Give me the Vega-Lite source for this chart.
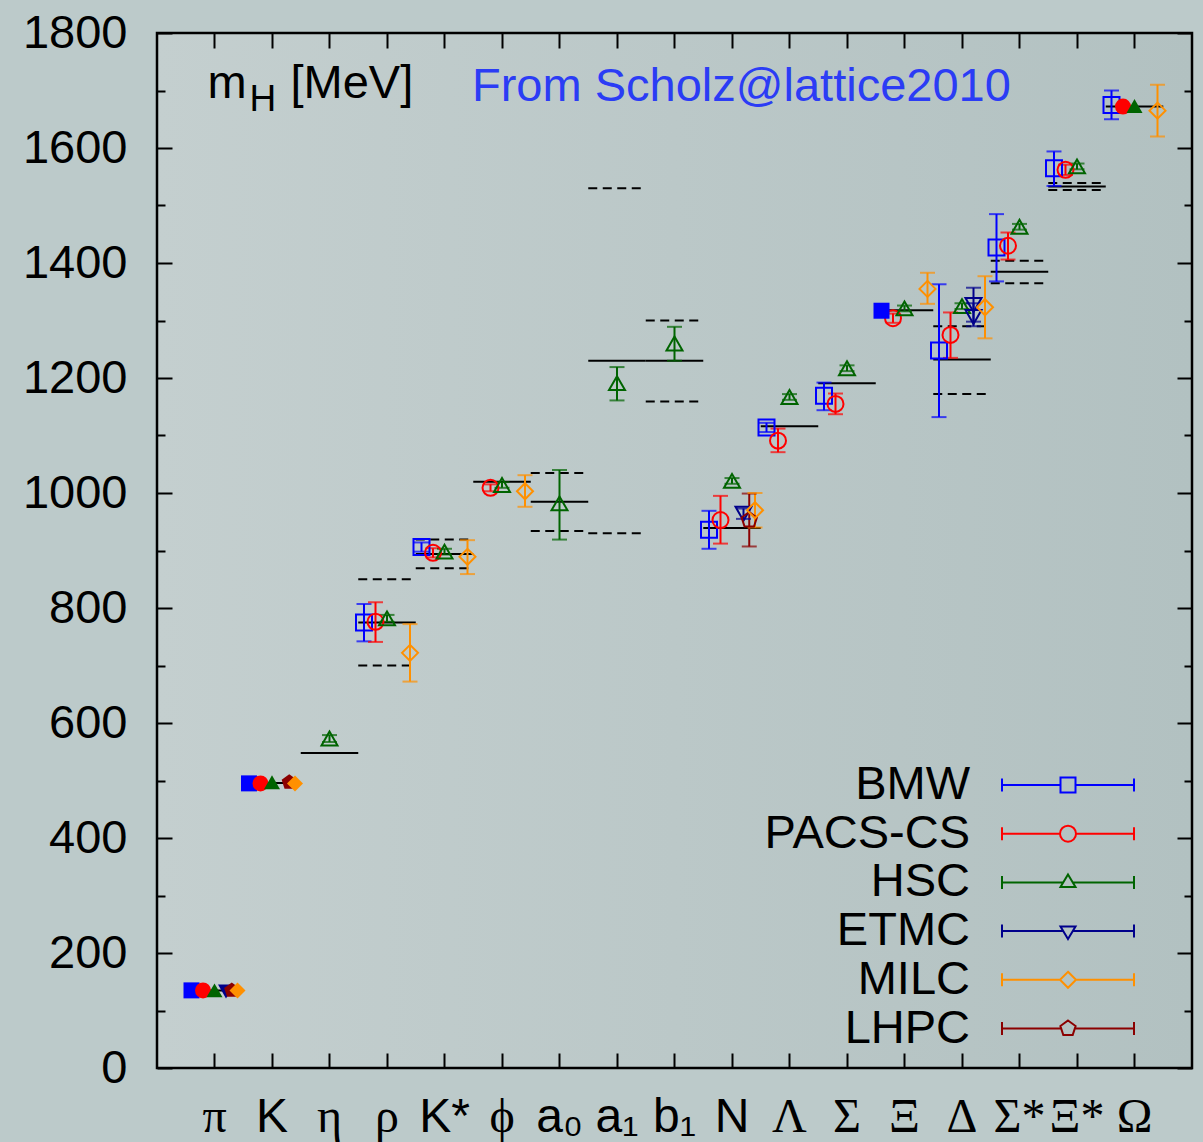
{
  "$schema": "https://vega.github.io/schema/vega-lite/v6.json",
  "width": 1035,
  "height": 1035,
  "autosize": {"type": "none"},
  "padding": {"left": 157, "top": 33, "right": 11, "bottom": 74},
  "background": "#bccaca",
  "config": {
    "font": "Liberation Sans",
    "view": {
      "stroke": "black",
      "strokeWidth": 2.5,
      "fill": {"gradient": "linear", "x1": 0, "y1": 0, "x2": 1, "y2": 0, "stops": [{"offset": 0, "color": "#c4cfcf"}, {"offset": 1, "color": "#b2c1c1"}]}
    }
  },
  "title": {"text": "From Scholz@lattice2010", "anchor": "start", "frame": "group", "orient": "top", "offset": 0, "dx": 315, "dy": 139, "baseline": "alphabetic", "fontSize": 47, "fontWeight": "normal", "color": "#2b3cf5", "font": "Liberation Sans"},
  "datasets": {
    "results": [
      {"hadron": "π", "collab": "BMW", "mass": 135, "lo": null, "hi": null, "input": true},
      {"hadron": "π", "collab": "PACS-CS", "mass": 135, "lo": null, "hi": null, "input": true},
      {"hadron": "π", "collab": "HSC", "mass": 135, "lo": null, "hi": null, "input": true},
      {"hadron": "π", "collab": "ETMC", "mass": 133, "lo": null, "hi": null, "input": true},
      {"hadron": "π", "collab": "LHPC", "mass": 135, "lo": null, "hi": null, "input": true},
      {"hadron": "π", "collab": "MILC", "mass": 135, "lo": null, "hi": null, "input": true},
      {"hadron": "K", "collab": "BMW", "mass": 495, "lo": null, "hi": null, "input": true},
      {"hadron": "K", "collab": "PACS-CS", "mass": 495, "lo": null, "hi": null, "input": true},
      {"hadron": "K", "collab": "HSC", "mass": 497, "lo": null, "hi": null, "input": true},
      {"hadron": "K", "collab": "LHPC", "mass": 497, "lo": null, "hi": null, "input": true},
      {"hadron": "K", "collab": "MILC", "mass": 495, "lo": null, "hi": null, "input": true},
      {"hadron": "η", "collab": "HSC", "mass": 573, "lo": 567, "hi": 579, "input": false},
      {"hadron": "ρ", "collab": "BMW", "mass": 775, "lo": 742, "hi": 807, "input": false},
      {"hadron": "ρ", "collab": "PACS-CS", "mass": 776, "lo": 741, "hi": 810, "input": false},
      {"hadron": "ρ", "collab": "HSC", "mass": 782, "lo": 776, "hi": 788, "input": false},
      {"hadron": "ρ", "collab": "MILC", "mass": 722, "lo": 672, "hi": 772, "input": false},
      {"hadron": "K*", "collab": "BMW", "mass": 906, "lo": 898, "hi": 914, "input": false},
      {"hadron": "K*", "collab": "PACS-CS", "mass": 896, "lo": 888, "hi": 904, "input": false},
      {"hadron": "K*", "collab": "HSC", "mass": 898, "lo": 893, "hi": 903, "input": false},
      {"hadron": "K*", "collab": "MILC", "mass": 889, "lo": 859, "hi": 918, "input": false},
      {"hadron": "ϕ", "collab": "PACS-CS", "mass": 1009, "lo": 1003, "hi": 1015, "input": false},
      {"hadron": "ϕ", "collab": "HSC", "mass": 1014, "lo": 1009, "hi": 1019, "input": false},
      {"hadron": "ϕ", "collab": "MILC", "mass": 1003, "lo": 976, "hi": 1031, "input": false},
      {"hadron": "a₀", "collab": "HSC", "mass": 982, "lo": 919, "hi": 1040, "input": false},
      {"hadron": "a₁", "collab": "HSC", "mass": 1191, "lo": 1161, "hi": 1219, "input": false},
      {"hadron": "b₁", "collab": "HSC", "mass": 1260, "lo": 1230, "hi": 1289, "input": false},
      {"hadron": "N", "collab": "BMW", "mass": 936, "lo": 903, "hi": 969, "input": false},
      {"hadron": "N", "collab": "PACS-CS", "mass": 953, "lo": 912, "hi": 995, "input": false},
      {"hadron": "N", "collab": "HSC", "mass": 1021, "lo": 1016, "hi": 1026, "input": false},
      {"hadron": "N", "collab": "ETMC", "mass": 964, "lo": 955, "hi": 973, "input": false},
      {"hadron": "N", "collab": "LHPC", "mass": 953, "lo": 907, "hi": 999, "input": false},
      {"hadron": "N", "collab": "MILC", "mass": 970, "lo": 940, "hi": 1000, "input": false},
      {"hadron": "Λ", "collab": "BMW", "mass": 1114, "lo": 1106, "hi": 1122, "input": false},
      {"hadron": "Λ", "collab": "PACS-CS", "mass": 1091, "lo": 1071, "hi": 1112, "input": false},
      {"hadron": "Λ", "collab": "HSC", "mass": 1167, "lo": 1162, "hi": 1172, "input": false},
      {"hadron": "Σ", "collab": "BMW", "mass": 1169, "lo": 1144, "hi": 1192, "input": false},
      {"hadron": "Σ", "collab": "PACS-CS", "mass": 1155, "lo": 1137, "hi": 1173, "input": false},
      {"hadron": "Σ", "collab": "HSC", "mass": 1217, "lo": 1212, "hi": 1222, "input": false},
      {"hadron": "Ξ", "collab": "BMW", "mass": 1317, "lo": null, "hi": null, "input": true},
      {"hadron": "Ξ", "collab": "PACS-CS", "mass": 1304, "lo": 1296, "hi": 1312, "input": false},
      {"hadron": "Ξ", "collab": "HSC", "mass": 1321, "lo": 1316, "hi": 1326, "input": false},
      {"hadron": "Ξ", "collab": "MILC", "mass": 1355, "lo": 1329, "hi": 1383, "input": false},
      {"hadron": "Δ", "collab": "BMW", "mass": 1248, "lo": 1132, "hi": 1363, "input": false},
      {"hadron": "Δ", "collab": "PACS-CS", "mass": 1275, "lo": 1235, "hi": 1314, "input": false},
      {"hadron": "Δ", "collab": "HSC", "mass": 1325, "lo": 1320, "hi": 1330, "input": false},
      {"hadron": "Δ", "collab": "ETMC", "mass": 1327, "lo": 1298, "hi": 1357, "input": false},
      {"hadron": "Δ", "collab": "ETMC", "mass": 1306, "lo": 1290, "hi": 1330, "input": false},
      {"hadron": "Δ", "collab": "MILC", "mass": 1323, "lo": 1269, "hi": 1377, "input": false},
      {"hadron": "Σ*", "collab": "BMW", "mass": 1427, "lo": 1368, "hi": 1485, "input": false},
      {"hadron": "Σ*", "collab": "PACS-CS", "mass": 1430, "lo": 1406, "hi": 1453, "input": false},
      {"hadron": "Σ*", "collab": "HSC", "mass": 1463, "lo": 1458, "hi": 1468, "input": false},
      {"hadron": "Ξ*", "collab": "BMW", "mass": 1565, "lo": 1534, "hi": 1594, "input": false},
      {"hadron": "Ξ*", "collab": "PACS-CS", "mass": 1562, "lo": 1553, "hi": 1571, "input": false},
      {"hadron": "Ξ*", "collab": "HSC", "mass": 1568, "lo": 1563, "hi": 1573, "input": false},
      {"hadron": "Ω", "collab": "BMW", "mass": 1675, "lo": 1650, "hi": 1700, "input": false},
      {"hadron": "Ω", "collab": "PACS-CS", "mass": 1672, "lo": null, "hi": null, "input": true},
      {"hadron": "Ω", "collab": "HSC", "mass": 1673, "lo": null, "hi": null, "input": true},
      {"hadron": "Ω", "collab": "MILC", "mass": 1665, "lo": 1620, "hi": 1710, "input": false}
    ],
    "exp": [
      {"hadron": "π", "mass": 135, "wlo": null, "whi": null},
      {"hadron": "K", "mass": 495.6, "wlo": null, "whi": null},
      {"hadron": "η", "mass": 548, "wlo": null, "whi": null},
      {"hadron": "ρ", "mass": 775, "wlo": 700, "whi": 850},
      {"hadron": "K*", "mass": 894, "wlo": 869, "whi": 919},
      {"hadron": "ϕ", "mass": 1019.5, "wlo": null, "whi": null},
      {"hadron": "a₀", "mass": 985, "wlo": 934, "whi": 1035},
      {"hadron": "a₁", "mass": 1230, "wlo": 930, "whi": 1530},
      {"hadron": "b₁", "mass": 1230, "wlo": 1159, "whi": 1300},
      {"hadron": "N", "mass": 939, "wlo": null, "whi": null},
      {"hadron": "Λ", "mass": 1116, "wlo": null, "whi": null},
      {"hadron": "Σ", "mass": 1191, "wlo": null, "whi": null},
      {"hadron": "Ξ", "mass": 1318, "wlo": null, "whi": null},
      {"hadron": "Δ", "mass": 1232, "wlo": 1172, "whi": 1290},
      {"hadron": "Σ*", "mass": 1385, "wlo": 1365, "whi": 1404},
      {"hadron": "Ξ*", "mass": 1533, "wlo": 1527, "whi": 1539},
      {"hadron": "Ω", "mass": 1672, "wlo": null, "whi": null}
    ]
  },
  "resolve": {"scale": {"shape": "independent", "stroke": "independent"}},
  "layer": [
    {
      "data": {"name": "exp"},
      "mark": {"type": "rule", "color": "black", "strokeWidth": 2},
      "encoding": {
        "x": {"field": "hadron", "type": "nominal", "bandPosition": 0,
          "scale": {"type": "band", "domain": ["π","K","η","ρ","K*","ϕ","a₀","a₁","b₁","N","Λ","Σ","Ξ","Δ","Σ*","Ξ*","Ω"], "paddingInner": 0, "paddingOuter": 0.5},
          "axis": {"orient": "bottom", "title": null, "domain": false, "grid": false, "tickSize": -15, "tickWidth": 2, "tickColor": "black", "labelAngle": 0, "labelFontSize": 48, "labelColor": "black", "labelPadding": 40, "labelBaseline": "top",
            "labelFont": {"condition": {"test": "indexof(['K','K*','N','a₀','a₁','b₁'], datum.value) >= 0", "value": "Liberation Sans"}, "value": "Liberation Serif"}}},
        "x2": {"field": "hadron", "bandPosition": 1},
        "y": {"field": "mass", "type": "quantitative",
          "scale": {"domain": [0, 1800], "nice": false, "zero": false},
          "axis": {"orient": "left", "values": [0,100,200,300,400,500,600,700,800,900,1000,1100,1200,1300,1400,1500,1600,1700,1800], "format": "d",
            "tickSize": {"condition": {"test": "datum.value % 200 === 0", "value": -15}, "value": -8},
            "tickWidth": 2, "tickColor": "black", "domain": false, "grid": false,
            "labelExpr": "datum.value % 200 === 0 ? datum.label : ''", "labelFontSize": 47, "labelColor": "black", "labelPadding": 45, "labelOverlap": false, "labelFlush": false,
            "title": "m", "titleAngle": 0, "titleX": 50, "titleY": 64, "titleAlign": "left", "titleBaseline": "alphabetic", "titleFontSize": 47, "titleFontWeight": "normal", "titleColor": "black"}}
      }
    },
    {
      "data": {"name": "exp"},
      "transform": [{"filter": "isValid(datum.wlo)"}],
      "mark": {"type": "rule", "color": "black", "strokeWidth": 2, "strokeDash": [9, 5.5]},
      "encoding": {
        "x": {"field": "hadron", "type": "nominal", "bandPosition": 0, "axis": null},
        "x2": {"field": "hadron", "bandPosition": 1},
        "y": {"field": "wlo", "type": "quantitative", "axis": null}
      }
    },
    {
      "data": {"name": "exp"},
      "transform": [{"filter": "isValid(datum.whi)"}],
      "mark": {"type": "rule", "color": "black", "strokeWidth": 2, "strokeDash": [9, 5.5]},
      "encoding": {
        "x": {"field": "hadron", "type": "nominal", "bandPosition": 0, "axis": null},
        "x2": {"field": "hadron", "bandPosition": 1},
        "y": {"field": "whi", "type": "quantitative", "axis": null}
      }
    },
    {
      "data": {"name": "results"},
      "transform": [{"filter": "isValid(datum.lo)"}],
      "mark": {"type": "rule", "strokeWidth": 2},
      "encoding": {
        "x": {"field": "hadron", "type": "nominal", "axis": null},
        "xOffset": {"field": "collab", "type": "nominal", "scale": {"type": "point", "domain": ["BMW","s1","PACS-CS","s2","HSC","s3","ETMC","LHPC","MILC"], "range": [5.75, 51.75], "padding": 0}},
        "y": {"field": "lo", "type": "quantitative", "axis": null},
        "y2": {"field": "hi"},
        "color": {"field": "collab", "type": "nominal", "legend": null, "scale": {"domain": ["BMW","PACS-CS","HSC","ETMC","MILC","LHPC"], "range": ["#0000ff","#ff0000","#006400","#00008b","#ff9000","#8b0000"]}}
      }
    },
    {
      "data": {"name": "results"},
      "transform": [{"filter": "isValid(datum.lo)"}],
      "mark": {"type": "tick", "size": 15, "thickness": 2},
      "encoding": {
        "x": {"field": "hadron", "type": "nominal", "axis": null},
        "xOffset": {"field": "collab", "type": "nominal"},
        "y": {"field": "lo", "type": "quantitative", "axis": null},
        "color": {"field": "collab", "type": "nominal", "legend": null}
      }
    },
    {
      "data": {"name": "results"},
      "transform": [{"filter": "isValid(datum.hi)"}],
      "mark": {"type": "tick", "size": 15, "thickness": 2},
      "encoding": {
        "x": {"field": "hadron", "type": "nominal", "axis": null},
        "xOffset": {"field": "collab", "type": "nominal"},
        "y": {"field": "hi", "type": "quantitative", "axis": null},
        "color": {"field": "collab", "type": "nominal", "legend": null}
      }
    },
    {
      "data": {"name": "results"},
      "transform": [{"filter": "!datum.input"}],
      "mark": {"type": "point", "filled": false, "strokeWidth": 2, "size": 256, "opacity": 1},
      "encoding": {
        "x": {"field": "hadron", "type": "nominal", "axis": null},
        "xOffset": {"field": "collab", "type": "nominal"},
        "y": {"field": "mass", "type": "quantitative", "axis": null},
        "color": {"field": "collab", "type": "nominal", "legend": null},
        "shape": {"field": "collab", "type": "nominal", "legend": null, "scale": {"domain": ["BMW","PACS-CS","HSC","ETMC","MILC","LHPC"], "range": ["square","circle","triangle-up","triangle-down","diamond","M0,-1L0.951,-0.309L0.588,0.809L-0.588,0.809L-0.951,-0.309Z"]}}
      }
    },
    {
      "data": {"name": "results"},
      "transform": [{"filter": "datum.input"}],
      "mark": {"type": "point", "filled": true, "size": 256, "opacity": 1},
      "encoding": {
        "x": {"field": "hadron", "type": "nominal", "axis": null},
        "xOffset": {"field": "collab", "type": "nominal"},
        "y": {"field": "mass", "type": "quantitative", "axis": null},
        "color": {"field": "collab", "type": "nominal", "legend": null},
        "shape": {"field": "collab", "type": "nominal", "legend": null, "scale": {"domain": ["BMW","PACS-CS","HSC","ETMC","MILC","LHPC"], "range": ["square","circle","triangle-up","triangle-down","diamond","M0,-1L0.951,-0.309L0.588,0.809L-0.588,0.809L-0.951,-0.309Z"]}}
      }
    },
    {
      "data": {"name": "results"},
      "transform": [{"filter": "false"}],
      "mark": {"type": "point", "filled": false, "strokeWidth": 2, "size": 400, "opacity": 1},
      "encoding": {
        "x": {"field": "hadron", "type": "nominal",
          "axis": {"orient": "top", "domain": false, "grid": false, "labels": false, "tickSize": -15, "tickWidth": 2, "tickColor": "black",
            "title": "[MeV]", "titleAngle": 0, "titleX": 133, "titleY": 64, "titleAlign": "left", "titleBaseline": "alphabetic", "titleFontSize": 47, "titleFontWeight": "normal", "titleColor": "black"}},
        "y": {"field": "mass", "type": "quantitative",
          "axis": {"orient": "right", "values": [0,100,200,300,400,500,600,700,800,900,1000,1100,1200,1300,1400,1500,1600,1700,1800],
            "tickSize": {"condition": {"test": "datum.value % 200 === 0", "value": -15}, "value": -8},
            "tickWidth": 2, "tickColor": "black", "domain": false, "grid": false, "labels": false,
            "title": "H", "titleAngle": 0, "titleX": -943, "titleY": 77, "titleAlign": "left", "titleBaseline": "alphabetic", "titleFontSize": 37, "titleFontWeight": "normal", "titleColor": "black"}},
        "shape": {"field": "collab", "type": "nominal",
          "scale": {"domain": ["BMW","PACS-CS","HSC","ETMC","MILC","LHPC"], "range": [
            "M-6.6,0H-0.75M0.75,0H6.6M-6.6,-0.65V0.65M6.6,-0.65V0.65M-0.75,-0.75H0.75V0.75H-0.75Z",
            "M-6.6,0H-0.8M0.8,0H6.6M-6.6,-0.65V0.65M6.6,-0.65V0.65M0.8,0A0.8,0.8,0,1,1,-0.8,0A0.8,0.8,0,1,1,0.8,0Z",
            "M-6.6,0H-0.48M0.48,0H6.6M-6.6,-0.65V0.65M6.6,-0.65V0.65M0,-0.8L0.75,0.45L-0.75,0.45Z",
            "M-6.6,0H-0.48M0.48,0H6.6M-6.6,-0.65V0.65M6.6,-0.65V0.65M0,0.8L0.75,-0.45L-0.75,-0.45Z",
            "M-6.6,0H-0.8M0.8,0H6.6M-6.6,-0.65V0.65M6.6,-0.65V0.65M0,-0.8L0.8,0L0,0.8L-0.8,0Z",
            "M-6.6,0H-0.68M0.68,0H6.6M-6.6,-0.65V0.65M6.6,-0.65V0.65M0,-0.8L0.761,-0.247L0.47,0.647L-0.47,0.647L-0.761,-0.247Z"]},
          "legend": {"orient": "none", "legendX": 887.5, "legendY": 728.5, "title": null, "padding": 0, "rowPadding": 0.7, "labelFontSize": 47, "labelFont": "Liberation Sans", "labelColor": "black", "labelAlign": "right", "labelOffset": -121.5, "labelLimit": 500, "symbolSize": 400, "symbolStrokeWidth": 2, "symbolFillColor": "transparent"}},
        "stroke": {"field": "collab", "type": "nominal",
          "scale": {"domain": ["BMW","PACS-CS","HSC","ETMC","MILC","LHPC"], "range": ["#0000ff","#ff0000","#006400","#00008b","#ff9000","#8b0000"]},
          "legend": {"orient": "none", "legendX": 887.5, "legendY": 728.5, "title": null, "padding": 0, "rowPadding": 0.7, "labelFontSize": 47, "labelFont": "Liberation Sans", "labelColor": "black", "labelAlign": "right", "labelOffset": -121.5, "labelLimit": 500, "symbolSize": 400, "symbolStrokeWidth": 2, "symbolFillColor": "transparent"}}
      }
    }
  ]
}
